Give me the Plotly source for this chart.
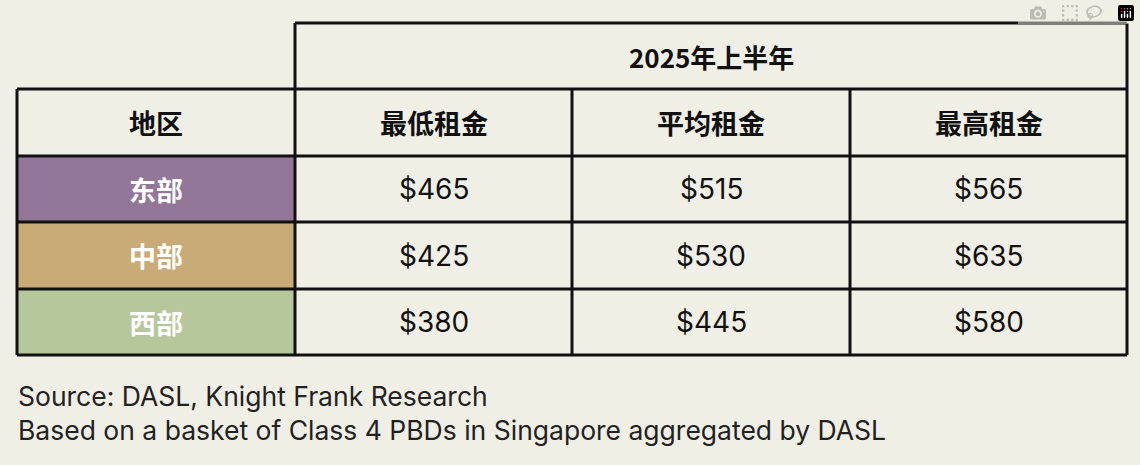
import plotly.graph_objects as go

period = "2025年上半年"
header = ["地区", "最低租金", "平均租金", "最高租金"]
regions = ["东部", "中部", "西部"]
min_rent = [465, 425, 380]
avg_rent = [515, 530, 445]
max_rent = [565, 635, 580]
region_colors = ["#927799", "#c9ab77", "#b6c89b"]
sources = ["Source: DASL, Knight Frank Research",
           "Based on a basket of Class 4 PBDs in Singapore aggregated by DASL"]

W, H = 1140, 465
col_x = [17, 295, 572, 850, 1127]
row_y = [23, 89, 156, 222, 289, 355]
BG = "#f0efe6"
FONT = "Noto Sans CJK SC"

fig = go.Figure()
fig.add_trace(go.Scatter(x=[0, W], y=[0, H], mode="markers", marker=dict(opacity=0), hoverinfo="skip", showlegend=False))
shapes, ann = [], []
line = dict(color="#111111", width=3)

for i, c in enumerate(region_colors):
    shapes.append(dict(type="rect", x0=col_x[0], x1=col_x[1], y0=row_y[i+2], y1=row_y[i+3], fillcolor=c, line=dict(width=0), layer="below"))

shapes.append(dict(type="line", x0=col_x[1], x1=col_x[4], y0=row_y[0], y1=row_y[0], line=line))
for y in row_y[1:]:
    shapes.append(dict(type="line", x0=col_x[0], x1=col_x[4], y0=y, y1=y, line=line))
shapes.append(dict(type="line", x0=col_x[0], x1=col_x[0], y0=row_y[1], y1=row_y[5], line=line))
for x in [col_x[1], col_x[4]]:
    shapes.append(dict(type="line", x0=x, x1=x, y0=row_y[0], y1=row_y[5], line=line))
for x in col_x[2:4]:
    shapes.append(dict(type="line", x0=x, x1=x, y0=row_y[1], y1=row_y[5], line=line))

def cx(i): return (col_x[i] + col_x[i+1]) / 2
def cy(j): return (row_y[j] + row_y[j+1]) / 2

ann.append(dict(x=(col_x[1]+col_x[4])/2, y=cy(0), text="<b>"+period+"</b>", showarrow=False, font=dict(size=26, color="#111", family=FONT)))
for i, h in enumerate(header):
    ann.append(dict(x=cx(i), y=cy(1), text="<b>"+h+"</b>", showarrow=False, font=dict(size=27, color="#111", family=FONT)))
for r in range(3):
    ann.append(dict(x=cx(0), y=cy(r+2), text="<b>"+regions[r]+"</b>", showarrow=False, font=dict(size=27, color="white", family=FONT)))
    for k, vals in enumerate([min_rent, avg_rent, max_rent]):
        ann.append(dict(x=cx(k+1), y=cy(r+2), text=f"${vals[r]}", showarrow=False, font=dict(size=28, color="#111", family="Inter")))
for i, s in enumerate(sources):
    ann.append(dict(x=16, y=396 + i*34, text=s, xanchor="left", showarrow=False, font=dict(size=26.5, color="#222", family="Inter")))

fig.update_layout(width=W, height=H, margin=dict(l=0, r=0, t=0, b=0), paper_bgcolor=BG, plot_bgcolor=BG,
                  shapes=shapes, annotations=ann,
                  xaxis=dict(range=[0, W], visible=False, fixedrange=True),
                  yaxis=dict(range=[H, 0], visible=False, fixedrange=True))
fig.write_html("out.html", post_script="document.body.style.margin='0';document.body.style.background='%s';" % BG)
